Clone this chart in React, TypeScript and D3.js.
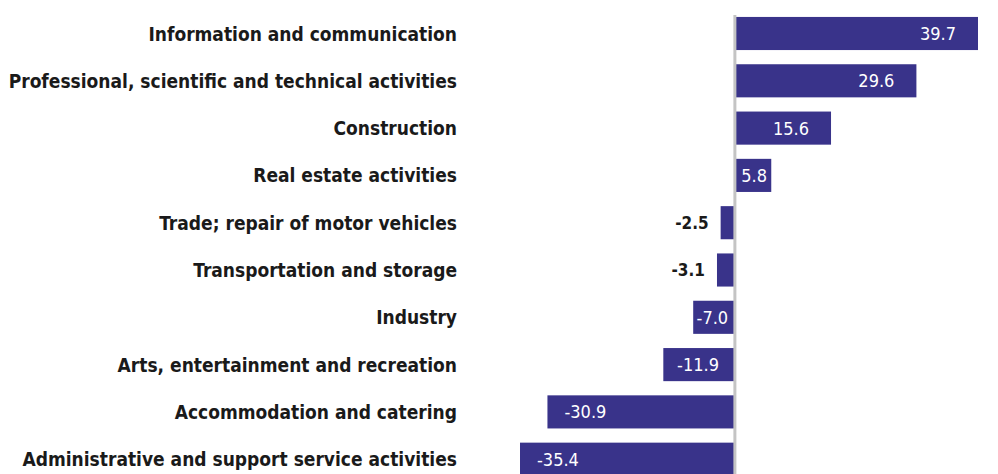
import React from "react";
import * as d3 from "d3";

const categories = [
  "Information and communication",
  "Professional, scientific and technical activities",
  "Construction",
  "Real estate activities",
  "Trade; repair of motor vehicles",
  "Transportation and storage",
  "Industry",
  "Arts, entertainment and recreation",
  "Accommodation and catering",
  "Administrative and support service activities",
];
const values = [39.7, 29.6, 15.6, 5.8, -2.5, -3.1, -7.0, -11.9, -30.9, -35.4];

const W = 998;
const H = 474;
const BAR = "#39338a";

function approxW(s: string, size: number) {
  return s.length * size * 0.5;
}

export default function App() {
  const x = d3.scaleLinear().domain([-35.4, 39.7]).range([520, 978]);
  const y = d3
    .scaleBand<string>()
    .domain(categories)
    .range([9.85, 9.85 + 473])
    .paddingInner(0.3)
    .paddingOuter(0.15);
  const x0 = x(0);
  const bw = y.bandwidth();
  const vSize = 18;
  return (
    <svg
      width={W}
      height={H}
      style={{ position: "absolute", left: 0, top: 0, display: "block" }}
    >
      <rect width={W} height={H} fill="#fff" />
      {categories.map((c, i) => {
        const v = values[i];
        const yy = y(c)!;
        const x1 = x(Math.min(0, v));
        const x2 = x(Math.max(0, v));
        const w = x2 - x1;
        const label = v.toFixed(1);
        const tw = approxW(label, vSize);
        const inside = w > 30;
        let tx = 0;
        let anchor: "start" | "end" = "start";
        if (inside) {
          if (v >= 0) {
            anchor = "end";
            tx = x2 - Math.max(2, Math.min(22, (w - tw) / 2));
          } else {
            anchor = "start";
            tx = x1 + Math.max(2, Math.min(17, (w - tw) / 2));
          }
        } else {
          anchor = "end";
          tx = x1 - 12;
        }
        return (
          <g key={c}>
            <text
              x={457}
              y={yy + bw / 2}
              textAnchor="end"
              dominantBaseline="central"
              fontFamily="'DejaVu Sans Condensed', 'DejaVu Sans', sans-serif"
              fontWeight="bold"
              fontSize={19}
              fill="#1a1a1a"
            >
              {c}
            </text>
            <rect x={x1} y={yy} width={w} height={bw} fill={BAR} />
            <text
              x={tx}
              y={yy + bw / 2}
              textAnchor={anchor}
              dominantBaseline="central"
              fontFamily="'DejaVu Sans Condensed', 'DejaVu Sans', sans-serif"
              fontWeight={inside ? "normal" : "bold"}
              fontSize={inside ? vSize : 17}
              fill={inside ? "#ffffff" : "#1a1a1a"}
            >
              {label}
            </text>
          </g>
        );
      })}
      <line x1={x0 - 1} x2={x0 - 1} y1={15} y2={H} stroke="#c4c4c4" strokeWidth={3} />
    </svg>
  );
}
